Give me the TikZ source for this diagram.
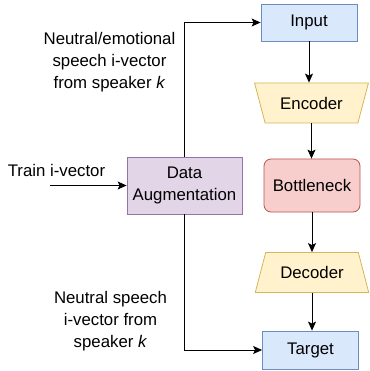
\documentclass[tikz,border=0pt]{standalone}
\usepackage{fontspec}
\setmainfont{Liberation Sans}
\usetikzlibrary{shapes.geometric,positioning,arrows.meta}

\definecolor{inFill}{HTML}{DAE8FC}
\definecolor{inLine}{HTML}{6C8EBF}
\definecolor{codFill}{HTML}{FFF2CC}
\definecolor{codLine}{HTML}{D6B656}
\definecolor{neckFill}{HTML}{F8CECC}
\definecolor{neckLine}{HTML}{B85450}
\definecolor{augFill}{HTML}{E1D5E7}
\definecolor{augLine}{HTML}{9673A6}

\begin{document}
\begin{tikzpicture}[x=1pt,y=-1pt,
                   every node/.style = {align=center,
                   font=\fontsize{16.8}{22}\selectfont},
                   box/.style={draw, line width=0.8pt, inner sep=0pt,
                   minimum width=96pt, minimum height=37pt},
                   coder/.style={draw=codLine, fill=codFill, line width=0.8pt,
                   trapezium, trapezium angle=60, trapezium stretches=true,
                   inner sep=0pt, minimum width=114pt, minimum height=40pt},
                   link/.style={draw, line width=0.9pt,
                   -{Stealth[length=9pt,width=8pt,inset=2pt]}}]
  \useasboundingbox (0,0) rectangle (369,371);

  % right column
  \node[box, draw=inLine, fill=inFill] (input) at (309,22.5) {Input};
  \node[coder, shape border rotate=180] (encoder) at (311.5,103) {Encoder};
  \node[box, draw=neckLine, fill=neckFill, rounded corners=7pt,
        minimum height=53pt] (neck) at (312,185.5) {Bottleneck};
  \node[coder] (decoder) at (312,272.5) {Decoder};
  \node[box, draw=inLine, fill=inFill, minimum height=38pt] (target) at (310.5,350) {Target};

  % left side
  \node[box, draw=augLine, fill=augFill, minimum width=115pt,
        minimum height=57pt] (aug) at (184.5,185.5) {Data\\Augmentation};
  \node (train) at (56.5,170) {Train i-vector};
  \coordinate (trainin) at (50,185.5);
  \node (emo) at (109.5,62) {Neutral/emotional\\speech i-vector\\from speaker \textit{k}};
  \node (neu) at (110.5,321) {Neutral speech\\i-vector from\\speaker \textit{k}};

  \draw[link] (trainin) -- (aug);
  \draw[link] (aug.north) |- (input);
  \draw[link] (aug.south) |- (target);
  \draw[link] (input.south) -- (input.south |- encoder.north);
  \draw[link] (encoder.south) -- (encoder.south |- neck.north);
  \draw[link] (neck.south) -- (neck.south |- decoder.north);
  \draw[link] (decoder.south) -- (decoder.south |- target.north);
\end{tikzpicture}
\end{document}
